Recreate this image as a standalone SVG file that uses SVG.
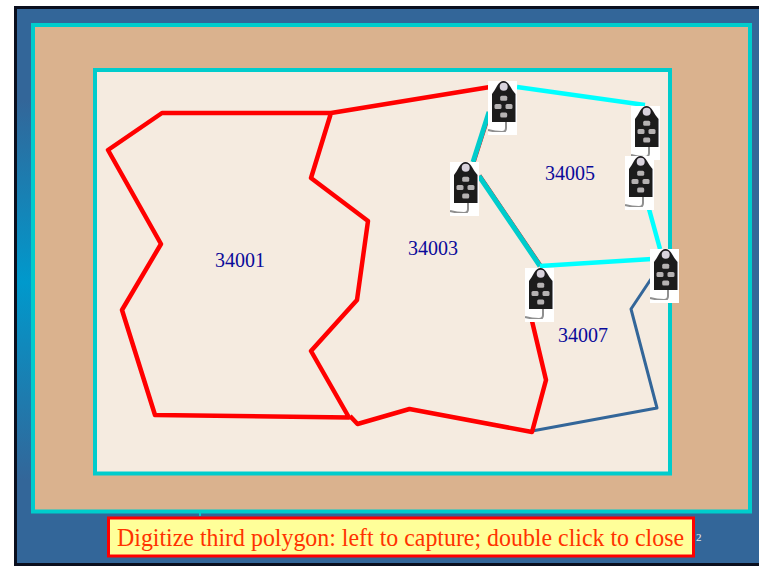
<svg xmlns="http://www.w3.org/2000/svg" width="759" height="566" viewBox="0 0 759 566">
<style>
.lbl{font-family:"Liberation Serif","Times New Roman",serif;font-size:20px;fill:#0a0a9a}
.red{fill:none;stroke:#ff0000;stroke-width:4.500;stroke-linejoin:round}
.redthin{fill:none;stroke:#ff0000;stroke-width:4}
.cy{fill:none;stroke:#00ffff;stroke-width:4.500}
.teal{fill:none;stroke:#00cccc;stroke-width:5}
.blue{fill:none;stroke:#336699;stroke-width:3;stroke-linejoin:round}
</style>
<defs>
<linearGradient id="bg" gradientUnits="userSpaceOnUse" x1="0" x2="0" y1="100" y2="480">
<stop offset="0" stop-color="#336699"/><stop offset="0.48" stop-color="#0099cc"/><stop offset="1" stop-color="#336699"/>
</linearGradient>
<filter id="soft" x="0" y="0" width="1" height="1"><feGaussianBlur stdDeviation="0.45"/></filter>
<symbol id="sig" width="29" height="54" viewBox="0 0 29 54">
<rect width="29" height="54" fill="#fff"/>
<g filter="url(#soft)">
<path d="M4 41V13Q7 9 9 5 12 0 15.500 0 19 0 22 5 24 9 27.500 13V41Z" fill="#1d1b1e"/>
<circle cx="15.700" cy="5.700" r="4" fill="#d8d2dc"/>
<rect x="12.200" y="14.800" width="7" height="5" rx="1.500" fill="#b5b2b2"/>
<rect x="6.500" y="23" width="7" height="5" rx="1.500" fill="#b5b2b2"/>
<rect x="17.500" y="23" width="7" height="5" rx="1.500" fill="#b5b2b2"/>
<rect x="12.200" y="31.500" width="7" height="5" rx="1.500" fill="#b5b2b2"/>
<path d="M18 41V47Q18 51 14 51 7 51 0 49" fill="none" stroke="#8f8f8f" stroke-width="2"/>
</g>
</symbol>
</defs>
<rect id="page" x="15.500" y="7.500" width="745" height="557" fill="#336699" stroke="#0a0f1e" stroke-width="3"/>
<rect x="17" y="100" width="16" height="380" fill="url(#bg)"/>
<rect id="frame" x="33" y="25" width="717" height="486.500" fill="#dab28e" stroke="#00cccc" stroke-width="4"/>
<rect id="map" x="95" y="70" width="575" height="403.500" fill="#f5ebe0" stroke="#00cccc" stroke-width="4"/>
<rect x="199" y="513" width="2" height="3" fill="#00cccc"/>
<g id="connectors">
<path class="redthin" d="M489.800 112 473.800 162M479.600 175.600 540.600 265.600"/>
<path class="teal" d="M489 112 473 162M479 176 540 266"/>
<path class="cy" d="M517 87 645 105M540 266 652 259M649 209 660 249"/>
<path class="blue" d="M532 431 657 408 631 309 651 279"/>
<path class="red" d="M331 113H162L108 150 161 244 122 310 155 415 349 417.500 311 351 357 300 368 221 311 178 331 113 490 87"/>
<path class="red" d="M350 416 357.500 424 409.500 409 532 432 546 380 532 321"/>
</g>
<g id="signal-1"><use href="#sig" x="488" y="81"/></g>
<g id="signal-2"><use href="#sig" x="450" y="162"/></g>
<g id="signal-3"><use href="#sig" x="631" y="106"/></g>
<g id="signal-4"><use href="#sig" x="625" y="156"/></g>
<g id="signal-5"><use href="#sig" x="650" y="249"/></g>
<g id="signal-6"><use href="#sig" x="525" y="268"/></g>
<g id="p34001"><text class="lbl" x="215" y="267">34001</text></g>
<g id="p34003"><text class="lbl" x="408" y="255">34003</text></g>
<g id="p34005"><text class="lbl" x="545" y="180">34005</text></g>
<g id="p34007"><text class="lbl" x="558" y="342">34007</text></g>
<text x="696" y="541" font-family="Liberation Serif,serif" font-size="11" fill="#e8eef5">2</text>
<g id="message">
<rect x="108.500" y="518" width="585" height="38" fill="#ffff99" stroke="#ff0000" stroke-width="3"/>
<text transform="translate(117 546) scale(.956 1)" font-family="Liberation Serif,Times New Roman,serif" font-size="25" fill="#ff3300">Digitize third polygon: left to capture; double click to close</text>
</g>
</svg>
